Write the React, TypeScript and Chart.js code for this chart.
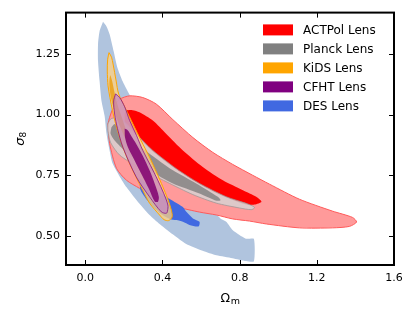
import React, { useEffect, useRef } from 'react';
import { Chart, registerables } from 'chart.js';

Chart.register(...registerables);

// ---- axes ----
const xRange = [-0.1, 1.6];
const yRange = [0.38, 1.42];
const xTicks = [0.0, 0.4, 0.8, 1.2, 1.6];
const yTicks = [0.5, 0.75, 1.0, 1.25];

// ---- legend ----
const seriesLabels = ['ACTPol Lens', 'Planck Lens', 'KiDS Lens', 'CFHT Lens', 'DES Lens'];
const seriesColors = ['#ff0000', '#808080', '#ffa500', '#800080', '#4169e1'];

// ---- contours (Omega_m, sigma_8) ----
const desOuter = [
  [0.092, 1.382], [0.110, 1.363], [0.126, 1.331], [0.147, 1.261], [0.167, 1.192], [0.193, 1.138],
  [0.219, 1.097], [0.240, 1.069], [0.385, 0.954], [0.592, 0.790], [0.660, 0.647], [0.680, 0.590],
  [0.706, 0.568], [0.732, 0.557], [0.763, 0.524], [0.799, 0.504], [0.836, 0.488], [0.874, 0.487],
  [0.874, 0.395], [0.834, 0.396], [0.763, 0.408], [0.680, 0.420], [0.608, 0.439], [0.523, 0.467],
  [0.437, 0.516], [0.385, 0.549], [0.333, 0.586], [0.266, 0.647], [0.214, 0.700], [0.178, 0.745],
  [0.141, 0.799], [0.126, 0.852], [0.110, 0.921], [0.100, 0.995], [0.084, 1.056], [0.074, 1.138],
  [0.066, 1.220], [0.066, 1.290], [0.074, 1.343], [0.092, 1.382],
];
const desInner = [
  [0.281, 0.737], [0.333, 0.709], [0.385, 0.680], [0.421, 0.660], [0.463, 0.640], [0.504, 0.620],
  [0.525, 0.598], [0.558, 0.572], [0.592, 0.558], [0.587, 0.539], [0.540, 0.545], [0.506, 0.558],
  [0.472, 0.565], [0.437, 0.570], [0.385, 0.594], [0.333, 0.635], [0.287, 0.688], [0.281, 0.737],
];
const actOuter = [
  [0.117, 0.961], [0.126, 0.988], [0.147, 1.032], [0.178, 1.063], [0.230, 1.077], [0.298, 1.070],
  [0.368, 1.043], [0.454, 0.979], [0.558, 0.905], [0.661, 0.844], [0.763, 0.795], [0.867, 0.750],
  [0.955, 0.713], [1.110, 0.651], [1.281, 0.602], [1.385, 0.576], [1.406, 0.557], [1.369, 0.539],
  [1.281, 0.533], [1.110, 0.533], [0.939, 0.549], [0.851, 0.561], [0.763, 0.570], [0.680, 0.586],
  [0.592, 0.598], [0.473, 0.620], [0.385, 0.647], [0.281, 0.696], [0.214, 0.729], [0.162, 0.778],
  [0.126, 0.881], [0.117, 0.961],
];
const actInner = [
  [0.204, 1.002], [0.212, 1.016], [0.245, 1.018], [0.281, 1.009], [0.350, 0.975], [0.420, 0.920],
  [0.506, 0.852], [0.609, 0.784], [0.713, 0.729], [0.817, 0.688], [0.886, 0.661], [0.913, 0.641],
  [0.877, 0.629], [0.834, 0.629], [0.731, 0.658], [0.592, 0.713], [0.472, 0.774], [0.350, 0.848],
  [0.264, 0.915], [0.209, 0.958], [0.204, 1.002],
];
const planckOuter = [
  [0.117, 0.961], [0.131, 0.981], [0.152, 0.986], [0.195, 0.975], [0.264, 0.920], [0.350, 0.852],
  [0.472, 0.777], [0.592, 0.716], [0.731, 0.661], [0.834, 0.634], [0.872, 0.621], [0.877, 0.615],
  [0.860, 0.608], [0.799, 0.615], [0.679, 0.635], [0.558, 0.670], [0.420, 0.723], [0.281, 0.780],
  [0.178, 0.833], [0.131, 0.885], [0.117, 0.934], [0.117, 0.961],
];
const planckInner = [
  [0.135, 0.947], [0.152, 0.961], [0.188, 0.938], [0.230, 0.906], [0.333, 0.838], [0.454, 0.770],
  [0.575, 0.716], [0.687, 0.661], [0.701, 0.647], [0.680, 0.645], [0.592, 0.675], [0.454, 0.716],
  [0.333, 0.770], [0.212, 0.845], [0.152, 0.893], [0.131, 0.921], [0.135, 0.947],
];
const kidsOuter = [
  [0.123, 1.255], [0.136, 1.236], [0.144, 1.208], [0.160, 1.138], [0.173, 1.085], [0.209, 1.024],
  [0.247, 0.961], [0.289, 0.893], [0.333, 0.824], [0.369, 0.762], [0.402, 0.702], [0.426, 0.655],
  [0.446, 0.606], [0.450, 0.578], [0.432, 0.563], [0.408, 0.567], [0.385, 0.586], [0.333, 0.635],
  [0.298, 0.688], [0.261, 0.745], [0.230, 0.797], [0.201, 0.852], [0.178, 0.906], [0.157, 0.962],
  [0.141, 1.016], [0.128, 1.069], [0.118, 1.118], [0.114, 1.179], [0.116, 1.228], [0.123, 1.255],
];
const kidsInner = [
  [0.130, 1.163], [0.139, 1.138], [0.152, 1.089], [0.167, 1.040], [0.188, 0.991], [0.209, 0.942],
  [0.230, 0.893], [0.219, 0.885], [0.193, 0.926], [0.167, 0.975], [0.147, 1.024], [0.131, 1.077],
  [0.125, 1.122], [0.126, 1.150], [0.130, 1.163],
];
const cfhtOuter = [
  [0.157, 1.085], [0.178, 1.070], [0.204, 1.032], [0.230, 0.975], [0.266, 0.913], [0.298, 0.852],
  [0.338, 0.790], [0.376, 0.729], [0.406, 0.676], [0.428, 0.627], [0.426, 0.602], [0.420, 0.593],
  [0.394, 0.599], [0.333, 0.661], [0.264, 0.743], [0.195, 0.865], [0.167, 0.942], [0.152, 1.002],
  [0.147, 1.056], [0.157, 1.085],
];
const cfhtInner = [
  [0.204, 0.942], [0.221, 0.934], [0.240, 0.909], [0.264, 0.879], [0.297, 0.831], [0.333, 0.770],
  [0.359, 0.717], [0.381, 0.661], [0.376, 0.640], [0.359, 0.643], [0.333, 0.688], [0.302, 0.737],
  [0.281, 0.770], [0.245, 0.827], [0.221, 0.865], [0.206, 0.905], [0.204, 0.942],
];

const FONT = "'DejaVu Sans', sans-serif";

type Layer = { name: string; pts: number[][]; bg: string; border: string; bw: number; tension: number };

// bottom to top
const layers: Layer[] = [
  { name: 'DES 95', pts: desOuter, bg: '#b0c4de', border: 'rgba(0,0,0,0)', bw: 0, tension: 0.2 },
  { name: 'ACTPol 95', pts: actOuter, bg: '#ff9a9a', border: '#ff5a5a', bw: 1, tension: 0.25 },
  { name: 'DES 68', pts: desInner, bg: '#4169e1', border: 'rgba(0,0,0,0)', bw: 0, tension: 0.25 },
  { name: 'ACTPol 68', pts: actInner, bg: '#ff0000', border: 'rgba(0,0,0,0)', bw: 0, tension: 0.25 },
  { name: 'Planck 95', pts: planckOuter, bg: 'rgba(212,212,212,0.8)', border: 'rgba(150,150,150,0.7)', bw: 1, tension: 0.25 },
  { name: 'Planck 68', pts: planckInner, bg: 'rgba(128,128,128,0.8)', border: 'rgba(0,0,0,0)', bw: 0, tension: 0.25 },
  { name: 'KiDS 95', pts: kidsOuter, bg: 'rgba(255,210,130,0.75)', border: '#ffa500', bw: 1, tension: 0.3 },
  { name: 'KiDS 68', pts: kidsInner, bg: 'rgba(235,160,20,0.85)', border: 'rgba(0,0,0,0)', bw: 0, tension: 0.3 },
  { name: 'CFHT 95', pts: cfhtOuter, bg: 'rgba(195,135,195,0.72)', border: 'rgba(128,0,128,0.7)', bw: 1, tension: 0.3 },
  { name: 'CFHT 68', pts: cfhtInner, bg: 'rgba(128,0,110,0.85)', border: 'rgba(0,0,0,0)', bw: 0, tension: 0.3 },
];

const framePlugin = {
  id: 'frameTicks',
  afterDatasetsDraw(chart: any) {
    const { ctx, chartArea: a, scales } = chart;
    const xs = scales.x;
    const ys = scales.y;
    const L = 5;
    ctx.save();
    ctx.strokeStyle = '#000';
    ctx.lineWidth = 1;
    ctx.beginPath();
    xs.ticks.forEach((t: any) => {
      const p = Math.round(xs.getPixelForValue(t.value)) + 0.5;
      ctx.moveTo(p, a.bottom);
      ctx.lineTo(p, a.bottom - L);
      ctx.moveTo(p, a.top);
      ctx.lineTo(p, a.top + L);
    });
    ys.ticks.forEach((t: any) => {
      const p = Math.round(ys.getPixelForValue(t.value)) + 0.5;
      ctx.moveTo(a.left, p);
      ctx.lineTo(a.left + L, p);
      ctx.moveTo(a.right, p);
      ctx.lineTo(a.right - L, p);
    });
    ctx.stroke();
    ctx.lineWidth = 2;
    ctx.strokeRect(a.left, a.top, a.right - a.left, a.bottom - a.top);
    ctx.restore();
  },
};

const legendPlugin = {
  id: 'cornerLegend',
  afterDraw(chart: any) {
    const { ctx, chartArea: a } = chart;
    ctx.save();
    const boxX = a.right - 131;
    const textX = a.right - 91;
    ctx.font = `12px ${FONT}`;
    ctx.textBaseline = 'middle';
    ctx.textAlign = 'left';
    seriesLabels.forEach((lab, i) => {
      const cy = a.top + 17.3 + i * 19;
      ctx.fillStyle = seriesColors[i];
      ctx.fillRect(boxX, cy - 5.5, 30, 11);
      ctx.fillStyle = '#000';
      ctx.fillText(lab, textX, cy + 0.5);
    });
    ctx.restore();
  },
};

const titlePlugin = {
  id: 'axisTitles',
  afterDraw(chart: any) {
    const { ctx, chartArea: a } = chart;
    ctx.save();
    ctx.fillStyle = '#000';
    ctx.textBaseline = 'alphabetic';
    ctx.textAlign = 'left';
    const cx = (a.left + a.right) / 2;
    ctx.font = `12.5px ${FONT}`;
    const w1 = ctx.measureText('Ω').width;
    ctx.font = `9.5px ${FONT}`;
    const w2 = ctx.measureText('m').width;
    const sx = cx - (w1 + w2) / 2;
    const by = a.bottom + 36.5;
    ctx.font = `12.5px ${FONT}`;
    ctx.fillText('Ω', sx, by);
    ctx.font = `9.5px ${FONT}`;
    ctx.fillText('m', sx + w1 + 0.5, by + 2.5);
    const cy = (a.top + a.bottom) / 2;
    ctx.translate(23.5, cy);
    ctx.rotate(-Math.PI / 2);
    ctx.font = `italic 13px ${FONT}`;
    const s1 = ctx.measureText('σ').width;
    ctx.font = `9px ${FONT}`;
    const s2 = ctx.measureText('8').width;
    const st = -(s1 + s2) / 2;
    ctx.font = `italic 13px ${FONT}`;
    ctx.fillText('σ', st, 0);
    ctx.font = `9px ${FONT}`;
    ctx.fillText('8', st + s1, 2.5);
    ctx.restore();
  },
};

export default function App() {
  const ref = useRef<HTMLCanvasElement | null>(null);
  useEffect(() => {
    if (!ref.current) return;
    const n = layers.length;
    const chart = new Chart(ref.current, {
      type: 'scatter',
      data: {
        datasets: layers.map((l, i) => ({
          label: l.name,
          data: l.pts.map(([x, y]) => ({ x, y })),
          showLine: true,
          fill: 'shape',
          backgroundColor: l.bg,
          borderColor: l.border,
          borderWidth: l.bw,
          pointRadius: 0,
          pointHoverRadius: 0,
          tension: l.tension,
          order: n - i,
        })),
      } as any,
      options: {
        animation: false,
        responsive: false,
        maintainAspectRatio: false,
        devicePixelRatio: 1,
        events: [],
        layout: { padding: { top: 12, right: 22, left: 0, bottom: 0 } },
        plugins: { legend: { display: false }, tooltip: { enabled: false } },
        scales: {
          x: {
            type: 'linear',
            min: xRange[0],
            max: xRange[1],
            grid: { display: false, drawTicks: false },
            border: { display: false },
            afterBuildTicks: (s: any) => { s.ticks = xTicks.map((v) => ({ value: v })); },
            afterFit: (s: any) => { s.height = 55; },
            ticks: {
              autoSkip: false,
              maxRotation: 0,
              padding: 7,
              color: '#000',
              font: { family: FONT, size: 11 },
              callback: (v: any) => Number(v).toFixed(1),
            },
          },
          y: {
            type: 'linear',
            min: yRange[0],
            max: yRange[1],
            grid: { display: false, drawTicks: false },
            border: { display: false },
            afterBuildTicks: (s: any) => { s.ticks = yTicks.map((v) => ({ value: v })); },
            afterFit: (s: any) => { s.width = 66; },
            ticks: {
              autoSkip: false,
              padding: 6,
              color: '#000',
              font: { family: FONT, size: 11 },
              callback: (v: any) => Number(v).toFixed(2),
            },
          },
        },
      } as any,
      plugins: [framePlugin, legendPlugin, titlePlugin],
    });
    return () => chart.destroy();
  }, []);
  return (
    <div style={{ position: 'absolute', left: 0, top: 0, width: 416, height: 320, background: '#fff' }}>
      <canvas ref={ref} width={416} height={320} style={{ width: 416, height: 320, display: 'block' }} />
    </div>
  );
}
